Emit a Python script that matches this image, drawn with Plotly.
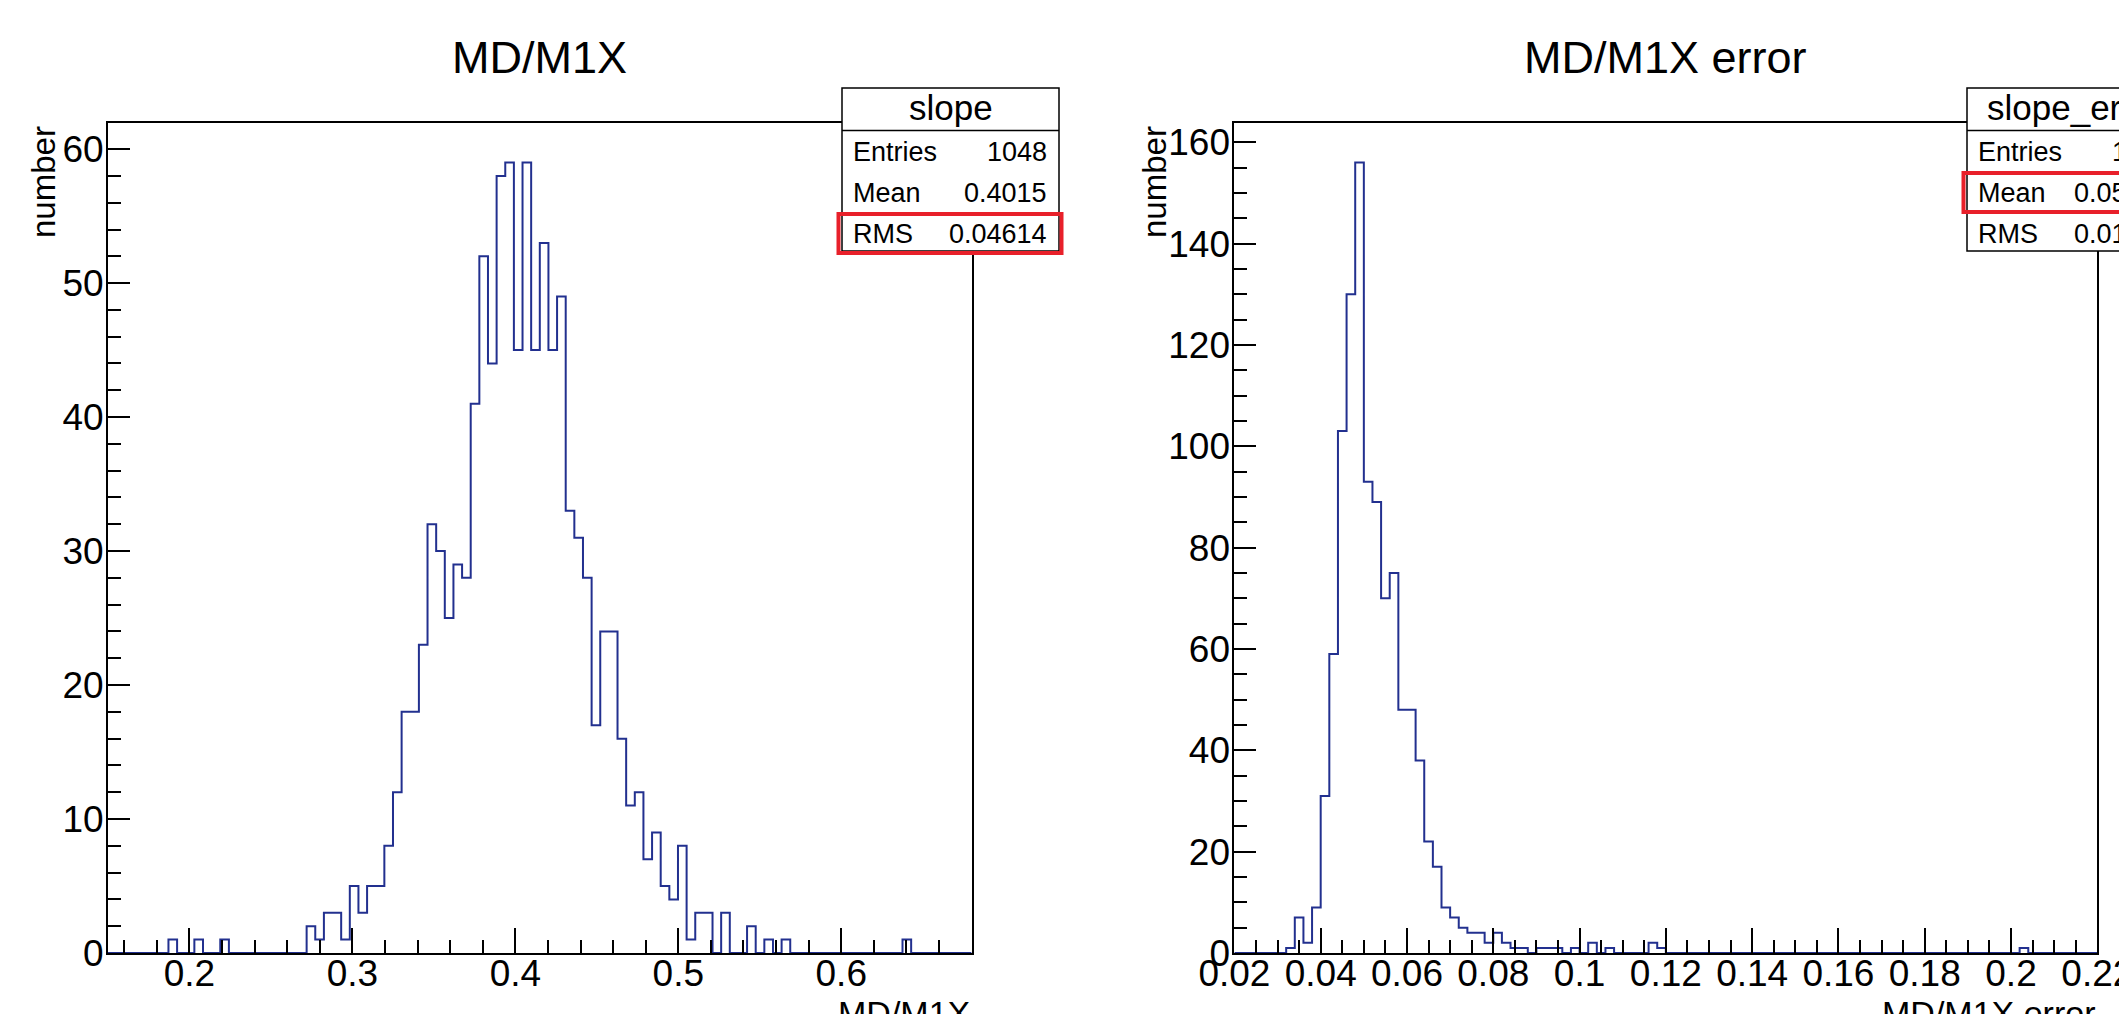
import plotly.graph_objects as go

# ---------------- data ----------------
# left histogram: MD/M1X  (100 bins on [0.15, 0.68])
slope_lo = 0.15
slope_hi = 0.68
slope_counts = [
    0, 0, 0, 0, 0, 0, 0, 1, 0, 0,
    1, 0, 0, 1, 0, 0, 0, 0, 0, 0,
    0, 0, 0, 2, 1, 3, 3, 1, 5, 3,
    5, 5, 8, 12, 18, 18, 23, 32, 30, 25,
    29, 28, 41, 52, 44, 58, 59, 45, 59, 45,
    53, 45, 49, 33, 31, 28, 17, 24, 24, 16,
    11, 12, 7, 9, 5, 4, 8, 1, 3, 3,
    0, 3, 0, 0, 2, 0, 1, 0, 1, 0,
    0, 0, 0, 0, 0, 0, 0, 0, 0, 0,
    0, 0, 1, 0, 0, 0, 0, 0, 0, 0,
]
slope_ymax = 61.95
slope_xticks = [0.2, 0.3, 0.4, 0.5, 0.6]
slope_xticktext = ["0.2", "0.3", "0.4", "0.5", "0.6"]
slope_yticks = [0, 10, 20, 30, 40, 50, 60]
slope_stats_labels = ["Entries", "Mean", "RMS"]
slope_stats_values = ["1048", "0.4015", "0.04614"]

# right histogram: MD/M1X error  (100 bins on [0.02, 0.22])
err_lo = 0.02
err_hi = 0.22
err_counts = [
    0, 0, 0, 0, 0, 0, 1, 7, 2, 9,
    31, 59, 103, 130, 156, 93, 89, 70, 75, 48,
    48, 38, 22, 17, 9, 7, 5, 4, 4, 2,
    4, 2, 1, 1, 0, 1, 1, 1, 0, 1,
    0, 2, 0, 1, 0, 0, 0, 0, 2, 1,
    0, 0, 0, 0, 0, 0, 0, 0, 0, 0,
    0, 0, 0, 0, 0, 0, 0, 0, 0, 0,
    0, 0, 0, 0, 0, 0, 0, 0, 0, 0,
    0, 0, 0, 0, 0, 0, 0, 0, 0, 0,
    0, 1, 0, 0, 0, 0, 0, 0, 0, 0,
]
err_ymax = 163.8
err_xticks = [0.02, 0.04, 0.06, 0.08, 0.1, 0.12, 0.14, 0.16, 0.18, 0.2, 0.22]
err_xticktext = ["0.02", "0.04", "0.06", "0.08", "0.1", "0.12", "0.14",
                 "0.16", "0.18", "0.2", "0.22"]
err_yticks = [0, 20, 40, 60, 80, 100, 120, 140, 160]
err_stats_labels = ["Entries", "Mean", "RMS"]
err_stats_values = ["1048", "0.05283", "0.01071"]

# ---------------- helpers ----------------
W, H = 2119, 1014
FONT = "Liberation Sans, Arial, Helvetica, sans-serif"
LINE_COLOR = "#22308f"


def px(x):
    return x / W


def py(y):
    return 1 - y / H


def step_xy(lo, hi, counts):
    n = len(counts)
    w = (hi - lo) / n
    xs = [lo]
    ys = [0]
    for i, c in enumerate(counts):
        xs.append(lo + i * w)
        ys.append(c)
    xs.append(hi)
    ys.append(counts[-1])
    xs.append(hi)
    ys.append(0)
    return xs, ys


fig = go.Figure()

sx, sy = step_xy(slope_lo, slope_hi, slope_counts)
fig.add_trace(go.Scatter(x=sx, y=sy, mode="lines", line=dict(shape="hv", color=LINE_COLOR, width=2),
                         xaxis="x", yaxis="y", showlegend=False, hoverinfo="skip"))
ex, ey = step_xy(err_lo, err_hi, err_counts)
fig.add_trace(go.Scatter(x=ex, y=ey, mode="lines", line=dict(shape="hv", color=LINE_COLOR, width=2),
                         xaxis="x2", yaxis="y2", showlegend=False, hoverinfo="skip"))

frame_top, frame_bot = 123, 953
L_left, L_right = 108, 971.6
R_left, R_right = 1234.4, 2097.3

TICK_FONT = 37

axis_common = dict(
    showline=True, mirror=True, linecolor="black", linewidth=2,
    showgrid=False, zeroline=False, ticks="inside", tickcolor="black",
    tickwidth=1.5, tickfont=dict(family=FONT, size=TICK_FONT, color="black"),
    layer="above traces", automargin=False, ticklabeloverflow="allow",
)


def xaxis_cfg(dom, rng, tv, tt, minor_dtick):
    d = dict(axis_common)
    d.update(domain=dom, range=rng, tickmode="array", tickvals=tv, ticktext=tt,
             ticklen=25, ticklabelstandoff=-13,
             minor=dict(tickmode="linear", tick0=0, dtick=minor_dtick, ticklen=13,
                        tickcolor="black", tickwidth=1.5, ticks="inside"))
    return d


def yaxis_cfg(dom, rng, tv, minor_dtick, anchor):
    d = dict(axis_common)
    d.update(domain=dom, range=rng, tickmode="array", tickvals=tv,
             ticktext=[str(v) for v in tv], ticklen=22, anchor=anchor,
             ticklabelstandoff=-5,
             minor=dict(tickmode="linear", tick0=0, dtick=minor_dtick, ticklen=13,
                        tickcolor="black", tickwidth=1.5, ticks="inside"))
    return d


ydom = [py(frame_bot), py(frame_top)]
fig.update_layout(
    width=W, height=H, autosize=False,
    margin=dict(l=0, r=0, t=0, b=0, pad=0),
    paper_bgcolor="white", plot_bgcolor="white",
    xaxis=xaxis_cfg([px(L_left), px(L_right)], [slope_lo, slope_hi], slope_xticks, slope_xticktext, 0.02),
    yaxis=yaxis_cfg(ydom, [0, slope_ymax], slope_yticks, 2, "x"),
    xaxis2=xaxis_cfg([px(R_left), px(R_right)], [err_lo, err_hi], err_xticks, err_xticktext, 0.005),
    yaxis2=yaxis_cfg(ydom, [0, err_ymax], err_yticks, 5, "x2"),
)
fig.layout.xaxis.anchor = "y"
fig.layout.xaxis2.anchor = "y2"

annotations = []
shapes = []


def text(x, y, s, size, xanchor="center", yanchor="middle", angle=0):
    annotations.append(dict(xref="paper", yref="paper", x=px(x), y=py(y), text=s,
                            showarrow=False, xanchor=xanchor, yanchor=yanchor,
                            textangle=angle, font=dict(family=FONT, size=size, color="black")))


# titles
text((L_left + L_right) / 2, 58, "MD/M1X", 45)
text((R_left + R_right) / 2, 58, "MD/M1X error", 45)
# y axis titles
text(44, 124, "number", 33, yanchor="top", angle=-90)
text(1155, 124, "number", 33, yanchor="top", angle=-90)
# x axis titles
text(L_right, 992, "MD/M1X", 34, xanchor="right", yanchor="top")
text(R_right, 992, "MD/M1X error", 34, xanchor="right", yanchor="top")


def stats_box(x0, x1, title, labels, values, red_row):
    y0, ysep, y1 = 88, 130.5, 251
    shapes.append(dict(type="rect", xref="paper", yref="paper", x0=px(x0), x1=px(x1),
                       y0=py(y1), y1=py(y0), fillcolor="white",
                       line=dict(color="black", width=1.5), layer="above"))
    shapes.append(dict(type="line", xref="paper", yref="paper", x0=px(x0), x1=px(x1),
                       y0=py(ysep), y1=py(ysep), line=dict(color="black", width=1.5), layer="above"))
    text((x0 + x1) / 2, 108, title, 35)
    rows_y = [151.5, 192.5, 233.5]
    for lab, val, yy in zip(labels, values, rows_y):
        text(x0 + 9, yy, lab, 27, xanchor="left")
        text(x1 - 10, yy, val, 27, xanchor="right")
    ry = rows_y[red_row]
    shapes.append(dict(type="rect", xref="paper", yref="paper", x0=px(x0 - 3.5), x1=px(x1 + 2.5),
                       y0=py(ry + 19.5), y1=py(ry - 19.5), fillcolor="rgba(0,0,0,0)",
                       line=dict(color="#e8202a", width=4), layer="above"))


stats_box(842, 1059, "slope", slope_stats_labels, slope_stats_values, 2)
stats_box(1967, 2184, "slope_error", err_stats_labels, err_stats_values, 1)

fig.update_layout(annotations=annotations, shapes=shapes)

fig.write_html("out.html", config={"displayModeBar": False},
               post_script="document.body.style.margin='0';document.body.style.overflow='hidden';")
